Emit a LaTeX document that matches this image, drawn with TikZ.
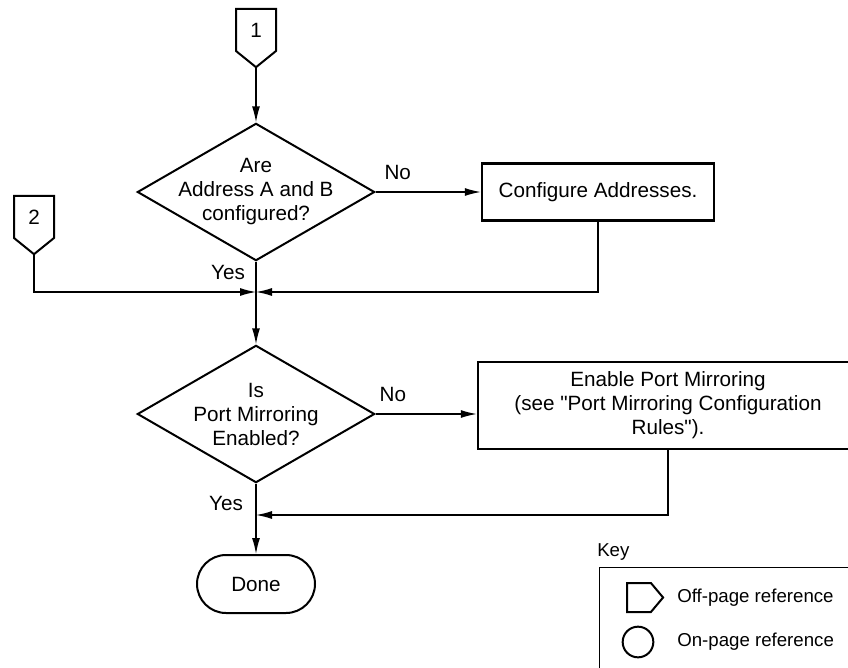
\documentclass[tikz,border=0pt]{standalone}
\usepackage{fontspec}
\setmainfont{Liberation Sans}
\usepackage{xcolor}
\usepackage{tikz}
\usetikzlibrary{arrows.meta,shapes.geometric,shapes.symbols,shapes.misc}
\definecolor{fcedge}{RGB}{0,0,0}
\newcommand\flowfont{\fontsize{15.5}{18}\selectfont}
\newcommand\keyfont{\fontsize{14}{16}\selectfont}
\tikzset{
  fcbox/.style={
    draw=fcedge, line width=1.8pt, align=center,
    inner sep=0pt, font=\flowfont
  },
  act/.style={fcbox},
  decision/.style={
    draw=fcedge, line width=1.5pt, shape=diamond, inner sep=0pt,
    minimum width=178pt, minimum height=103pt
  },
  dtext/.style={align=center, font=\flowfont, inner sep=0pt},
  offref/.style={
    draw=fcedge, line width=1.5pt, shape=signal, signal to=south,
    signal from=nowhere, signal pointer angle=102, inner sep=0pt,
    minimum width=30pt, minimum height=35pt, font=\flowfont
  },
  term/.style={
    draw=fcedge, line width=1.5pt, shape=rounded rectangle,
    inner sep=0pt, minimum width=88.5pt, minimum height=43.5pt, font=\flowfont
  },
  lbl/.style={font=\flowfont, inner sep=0pt},
  keytxt/.style={font=\keyfont, inner sep=0pt, anchor=west},
  keyframe/.style={draw=fcedge, line width=1pt, anchor=north west, inner sep=0pt},
  arr/.style={-{Latex[length=12pt,width=6pt]}, draw=fcedge, line width=1pt},
  every picture/.append style={line join=miter}
}

\begin{document}
\begin{tikzpicture}[x=0.75pt,y=-0.75pt]
  \clip (0,0) rectangle (848,667);
  \node[offref] (off1) at (256,30) {1};
  \node[offref] (off2) at (34,217) {2};
  \node[decision, label={[dtext]center:Are\\Address A and B\\configured?}] (ask1) at (256,192) {};
  \node[act, minimum width=174pt, minimum height=42.75pt] (cfg) at (598,192) {Configure Addresses.};
  \node[decision, label={[dtext]center:Is\\Port Mirroring\\Enabled?}] (ask2) at (256,414) {};
  \node[act, minimum width=285pt, minimum height=65.25pt] (mirror) at (668,405.5)
    {Enable Port Mirroring\\(see \textquotedbl Port Mirroring Configuration\\Rules\textquotedbl).};
  \node[term] (done) at (256,584) {Done};
  \coordinate (j1) at (256,292);
  \coordinate (j2) at (256,515);
  \draw[arr] (off1.south) -- (ask1.north);
  \draw[arr] (ask1.east) -- node[lbl, pos=0.21, above=9pt] (no1) {No} (cfg.west);
  \draw[arr] (cfg.south) |- (j1);
  \draw[arr] (off2.south) |- (j1);
  \draw[arr] (ask1.south) -- (ask2.north);
  \node[lbl] (yes1) at (228,272) {Yes};
  \draw[arr] (ask2.east) -- node[lbl, pos=0.17, above=9pt] (no2) {No} (ask2.east -| mirror.west);
  \draw[arr] (mirror.south) |- (j2);
  \draw[arr] (ask2.south) -- (done.north);
  \node[lbl] (yes2) at (226,503) {Yes};
  \node[keytxt] (keyhead) at (597,552) {Key};
  \node[keyframe, minimum width=220pt, minimum height=100pt] (keybox) at (599,567) {};
  \node[offref, signal to=east, signal pointer angle=100,
    minimum width=27pt, minimum height=21.75pt] (keyoff) at (639,597.5) {};
  \node[draw=fcedge, line width=1.5pt, circle, minimum size=23pt, inner sep=0pt] (keyon) at (638,642) {};
  \node[keytxt] (keyofftxt) at (677,598) {Off-page reference};
  \node[keytxt] (keyontxt) at (677,642) {On-page reference};
\end{tikzpicture}
\end{document}
